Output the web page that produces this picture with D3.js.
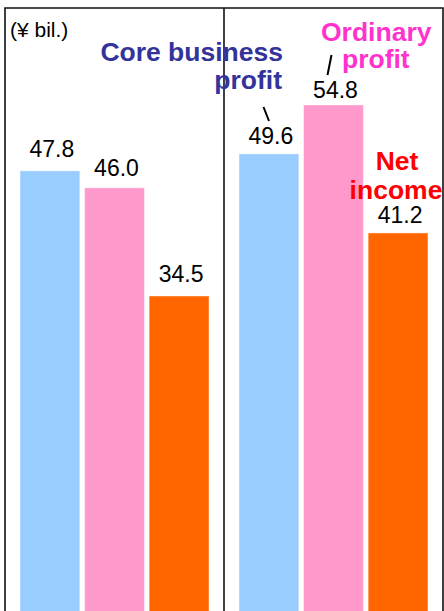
<!DOCTYPE html>
<html>
<head>
<meta charset="utf-8">
<script src="https://cdn.jsdelivr.net/npm/d3@7"></script>
<style>
  body { margin: 0; background: #fff; }
  svg { display: block; font-family: "Liberation Sans", Arial, sans-serif; }
</style>
</head>
<body>
<div id="chart"></div>
<script>
// data
var periods = ["Previous", "Current"]
var series = ["Core business profit", "Ordinary profit", "Net income"]
var values = [
    [47.8, 46.0, 34.5],
    [49.6, 54.8, 41.2]
]
var unitLabel = "(¥ bil.)"

var width = 444, height = 611
var colors = ["#99CCFF", "#FF99CC", "#FF6600"]
// small per-bar nudges of the value labels (px above bar top)
var labelGap = [[14, 12, 14], [10, 7, 10]]

var svg = d3.select("#chart")
    .append("svg")
    .attr("width", width)
    .attr("height", height)

// panels
var x0 = d3.scaleBand()
    .domain(periods)
    .range([5, 443])

// bars inside a panel
var x1 = d3.scaleBand()
    .domain(series)
    .range([15, x0.bandwidth() - 15])
    .paddingInner(0.073)

var y = d3.scaleLinear()
    .domain([0, 55])
    .range([620.6, 103.1])

// frame
svg.append("path")
    .attr("d", `M${x0.range()[0]},${height} V8 H${x0.range()[1]} V${height}`)
    .attr("fill", "none")
    .attr("stroke", "#111")
    .attr("stroke-width", 1.6)
svg.append("line")
    .attr("x1", x0(periods[1])).attr("x2", x0(periods[1]))
    .attr("y1", 8).attr("y2", height)
    .attr("stroke", "#111")
    .attr("stroke-width", 1.6)

// bars + value labels
var groups = svg.selectAll("g.period")
    .data(periods)
    .enter().append("g")
    .attr("class", "period")
    .attr("transform", function(d) { return `translate(${x0(d)},0)` })

groups.each(function(p, pi) {
    var g = d3.select(this)
    var rows = series.map(function(s, si) { return { s: s, si: si, v: values[pi][si] } })

    g.selectAll("rect")
        .data(rows)
        .enter().append("rect")
        .attr("x", function(d) { return x1(d.s) })
        .attr("y", function(d) { return y(d.v) })
        .attr("width", x1.bandwidth())
        .attr("height", function(d) { return y(0) - y(d.v) })
        .attr("fill", function(d) { return colors[d.si] })
        .attr("stroke", "rgba(255,255,255,0.45)")
        .attr("stroke-width", 1)

    g.selectAll("text.val")
        .data(rows)
        .enter().append("text")
        .attr("class", "val")
        .attr("x", function(d) { return x1(d.s) + x1.bandwidth() / 2 + 2 })
        .attr("y", function(d) { return y(d.v) - labelGap[pi][d.si] })
        .attr("text-anchor", "middle")
        .style("font-size", "23px")
        .style("fill", "#000")
        .text(function(d) { return d.v.toFixed(1) })
})

// unit
svg.append("text")
    .attr("x", 10)
    .attr("y", 37)
    .style("font-size", "21px")
    .text(unitLabel)

// series callouts
function callout(lines, color, anchor) {
    lines.forEach(function(l) {
        svg.append("text")
            .attr("x", l[1])
            .attr("y", l[2])
            .attr("text-anchor", anchor)
            .style("font-size", "26.5px")
            .style("font-weight", "bold")
            .style("fill", color)
            .text(l[0])
    })
}
callout([["Core business", 283, 61], ["profit", 282, 89]], "#333399", "end")
callout([["Ordinary", 321, 41], ["profit", 342, 68]], "#FF33CC", "start")
callout([["Net", 397, 170], ["income", 396, 199]], "#FF0000", "middle")

// leader marks
svg.append("path")
    .attr("d", "M263.5,107 L269,121 M331.5,55 L327.5,75")
    .attr("stroke", "#000")
    .attr("stroke-width", 2)
    .attr("fill", "none")
</script>
</body>
</html>
